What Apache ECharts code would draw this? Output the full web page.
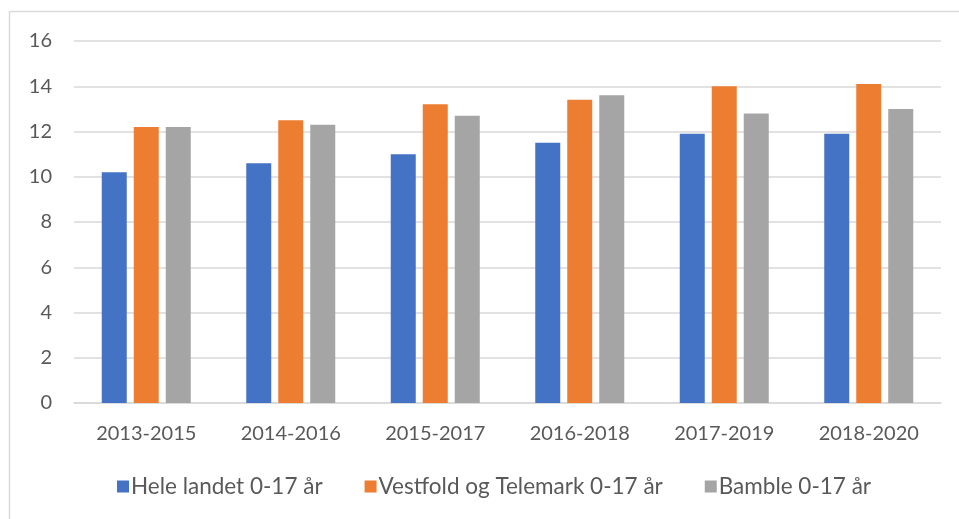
<!DOCTYPE html>
<html>
<head>
<meta charset="utf-8">
<script src="https://cdn.jsdelivr.net/npm/echarts@6/dist/echarts.min.js"></script>
<style>html,body{margin:0;padding:0;background:#fff;}#c{width:959px;height:519px;}</style>
</head>
<body>
<div id="c"></div>
<script>
const categories = ['2013-2015','2014-2016','2015-2017','2016-2018','2017-2019','2018-2020'];
const seriesNames = ['Hele landet 0-17 år','Vestfold og Telemark 0-17 år','Bamble 0-17 år'];
const heleLandet = [10.2, 10.6, 11.0, 11.5, 11.9, 11.9];
const vestfoldTelemark = [12.2, 12.5, 13.2, 13.4, 14.0, 14.1];
const bamble = [12.2, 12.3, 12.7, 13.6, 12.8, 13.0];
const yTicks = [0, 2, 4, 6, 8, 10, 12, 14, 16];

const colors = ['#4472C4', '#ED7D31', '#A5A5A5'];
const font = 'Lato, "Open Sans", sans-serif';
const txt = '#595959';

const chart = echarts.init(document.getElementById('c'), null, {renderer: 'canvas'});
const dataSets = [heleLandet, vestfoldTelemark, bamble];
chart.setOption({
  animation: false,
  color: colors,
  graphic: [
    {type: 'line', shape: {x1: 10, y1: 11.5, x2: 959, y2: 11.5}, style: {stroke: '#D9D9D9', lineWidth: 1.5}},
    {type: 'line', shape: {x1: 9.5, y1: 11, x2: 9.5, y2: 519}, style: {stroke: '#D9D9D9', lineWidth: 1.5}}
  ],
  grid: {left: 74, right: 18, top: 41, bottom: 116, containLabel: false},
  legend: {
    data: seriesNames,
    bottom: 16,
    left: 112,
    itemWidth: 12,
    itemHeight: 12,
    itemGap: 42,
    icon: 'rect',
    textStyle: {fontFamily: font, fontSize: 22.5, color: txt, padding: [0, 0, 0, -3]}
  },
  xAxis: {
    type: 'category',
    data: categories,
    axisLine: {lineStyle: {color: '#D9D9D9', width: 1.5}},
    axisTick: {show: false},
    axisLabel: {fontFamily: font, fontSize: 20, color: txt, margin: 21}
  },
  yAxis: {
    type: 'value',
    min: yTicks[0],
    max: yTicks[yTicks.length - 1],
    interval: 2,
    axisLine: {show: false},
    axisTick: {show: false},
    splitLine: {lineStyle: {color: '#D9D9D9', width: 1.5}},
    axisLabel: {fontFamily: font, fontSize: 20, color: txt, margin: 22}
  },
  series: seriesNames.map((n, i) => ({
    name: n,
    type: 'bar',
    data: dataSets[i],
    barWidth: 25,
    barGap: '28%'
  }))
});
</script>
</body>
</html>
